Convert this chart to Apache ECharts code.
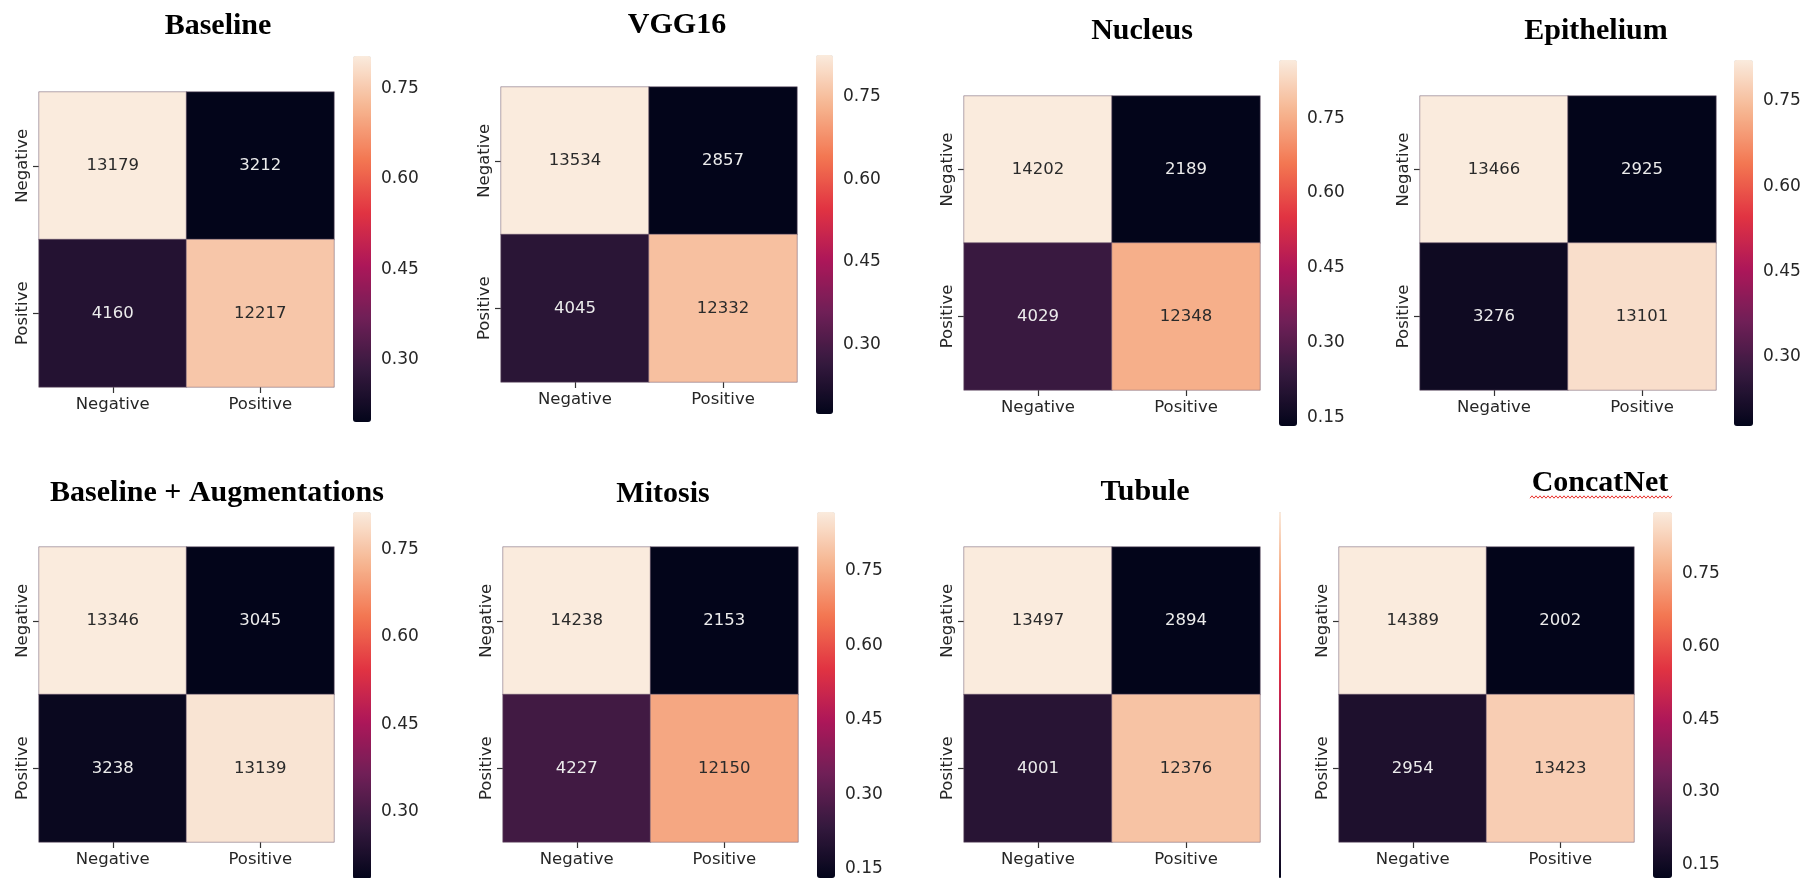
<!DOCTYPE html>
<html>
<head>
<meta charset="utf-8">
<script src="https://cdn.jsdelivr.net/npm/echarts@6/dist/echarts.min.js"></script>
<style>html,body{margin:0;padding:0;background:#fff}#c{width:1806px;height:878px}</style>
</head>
<body>
<div id="c"></div>
<script>
// ---------- DATA ----------
const classes = ['Negative', 'Positive'];
const titles = ['Baseline', 'VGG16', 'Nucleus', 'Epithelium',
                'Baseline + Augmentations', 'Mitosis', 'Tubule', 'ConcatNet'];
// confusion matrices: rows = true label, cols = predicted label
const cmBaseline   = [[13179, 3212], [4160, 12217]];
const cmVGG16      = [[13534, 2857], [4045, 12332]];
const cmNucleus    = [[14202, 2189], [4029, 12348]];
const cmEpithelium = [[13466, 2925], [3276, 13101]];
const cmBaseAug    = [[13346, 3045], [3238, 13139]];
const cmMitosis    = [[14238, 2153], [4227, 12150]];
const cmTubule     = [[13497, 2894], [4001, 12376]];
const cmConcatNet  = [[14389, 2002], [2954, 13423]];
const matrices = [cmBaseline, cmVGG16, cmNucleus, cmEpithelium,
                  cmBaseAug, cmMitosis, cmTubule, cmConcatNet];
const colorbarTicks = [0.15, 0.30, 0.45, 0.60, 0.75];
const showColorbarLabels = [true, true, true, true, true, true, false, true];

// ---------- STYLE / LAYOUT ----------
const rocket = ['#03051a', '#35193e', '#701f57', '#ad1759', '#e13342', '#f37651', '#f6b48f', '#faebdd'];
// [heat left, top, right, bottom], [cbar left, top, width, bottom], [title cx, cy]
const layout = [
  {h: [39, 92, 334, 387],   cb: [353, 56, 18, 422],   t: [218, 26]},
  {h: [501, 87, 797, 382],  cb: [816, 55, 17, 414],   t: [677, 25]},
  {h: [964, 96, 1260, 390], cb: [1279, 60, 18, 426],  t: [1142, 31]},
  {h: [1420, 96, 1716, 390],cb: [1734, 60, 19, 426],  t: [1596, 31]},
  {h: [39, 547, 334, 842],  cb: [353, 512, 18, 879],  t: [217, 493]},
  {h: [503, 547, 798, 842], cb: [817, 512, 18, 878],  t: [663, 494]},
  {h: [964, 547, 1260, 842],cb: [1279, 512, 2, 878],  t: [1145, 492]},
  {h: [1339, 547, 1634, 842],cb:[1653, 512, 19, 878], t: [1600, 483]}
];
const FONT = 'DejaVu Sans';
const TXT = '#262626';

const chart = echarts.init(document.getElementById('c'), null, {renderer: 'canvas'});
const grid = [], xAxis = [], yAxis = [], series = [], visualMap = [], graphic = [];

matrices.forEach((m, i) => {
  const L = layout[i];
  // row-normalised values drive the colours
  const norm = m.map(row => { const s = row[0] + row[1]; return row.map(v => v / s); });
  const flat = norm.flat();
  const vmin = Math.min(...flat), vmax = Math.max(...flat);

  const hg = grid.length;
  grid.push({left: L.h[0], top: L.h[1], width: L.h[2] - L.h[0], height: L.h[3] - L.h[1]});
  xAxis.push({
    type: 'category', data: classes, gridIndex: hg, position: 'bottom',
    axisLine: {show: false},
    axisTick: {show: true, alignWithLabel: true, length: 6, lineStyle: {color: '#333', width: 1.2}},
    axisLabel: {fontFamily: FONT, fontSize: 16.5, color: TXT, margin: 9},
    splitLine: {show: false}
  });
  yAxis.push({
    type: 'category', data: classes, gridIndex: hg, inverse: true, position: 'left',
    axisLine: {show: false},
    axisTick: {show: true, alignWithLabel: true, length: 6, lineStyle: {color: '#333', width: 1.2}},
    axisLabel: {fontFamily: FONT, fontSize: 16.5, color: TXT, rotate: 90, margin: 8},
    splitLine: {show: false}
  });
  const data = [];
  for (let r = 0; r < 2; r++) for (let c = 0; c < 2; c++) {
    const frac = (norm[r][c] - vmin) / (vmax - vmin);
    data.push({value: [c, r, norm[r][c], m[r][c]],
               label: {color: frac > 0.5 ? '#2a2a2a' : '#ececec'}});
  }
  const si = series.length;
  series.push({
    type: 'heatmap', xAxisIndex: hg, yAxisIndex: hg, data,
    itemStyle: {borderColor: 'rgba(120,100,120,0.55)', borderWidth: 1},
    label: {show: true, fontFamily: FONT, fontSize: 16.5, formatter: p => String(p.value[3])},
    emphasis: {disabled: true}
  });
  visualMap.push({
    type: 'continuous', seriesIndex: si, dimension: 2, min: vmin, max: vmax,
    inRange: {color: rocket}, calculable: false, realtime: false,
    orient: 'vertical', left: L.cb[0], top: L.cb[1], padding: 0,
    itemWidth: L.cb[2], itemHeight: L.cb[3] - L.cb[1], text: null, hoverLink: false
  });
  if (showColorbarLabels[i]) {
    const cg = grid.length;
    grid.push({left: L.cb[0], top: L.cb[1], width: L.cb[2], height: L.cb[3] - L.cb[1]});
    xAxis.push({type: 'value', gridIndex: cg, show: false, min: 0, max: 1});
    const inRange = colorbarTicks.filter(t => t >= vmin && t <= vmax);
    yAxis.push({
      type: 'value', gridIndex: cg, position: 'right', min: vmin, max: vmax,
      axisLine: {show: false},
      axisTick: {show: true, length: 6, customValues: inRange, lineStyle: {color: '#333', width: 1.2}},
      axisLabel: {show: true, customValues: inRange, formatter: v => v.toFixed(2),
                  fontFamily: FONT, fontSize: 17, color: TXT, margin: 10},
      splitLine: {show: false}
    });
  }
  graphic.push({
    type: 'text', x: L.t[0], y: L.t[1], silent: true,
    style: {text: titles[i], font: 'bold 30px "Liberation Serif", "Times New Roman", serif',
            fill: '#000', textAlign: 'center', textVerticalAlign: 'middle'}
  });
});

// red spell-check squiggle under "ConcatNet"
const sq = [];
for (let x = 1530, k = 0; x <= 1672; x += 2, k++) sq.push([x, 497 + (k % 2 ? -1.2 : 1.2)]);
graphic.push({type: 'polyline', silent: true, shape: {points: sq},
              style: {stroke: '#e8322c', lineWidth: 1, fill: null}});

chart.setOption({
  animation: false,
  backgroundColor: '#ffffff',
  grid, xAxis, yAxis, series, visualMap, graphic
});
</script>
</body>
</html>
